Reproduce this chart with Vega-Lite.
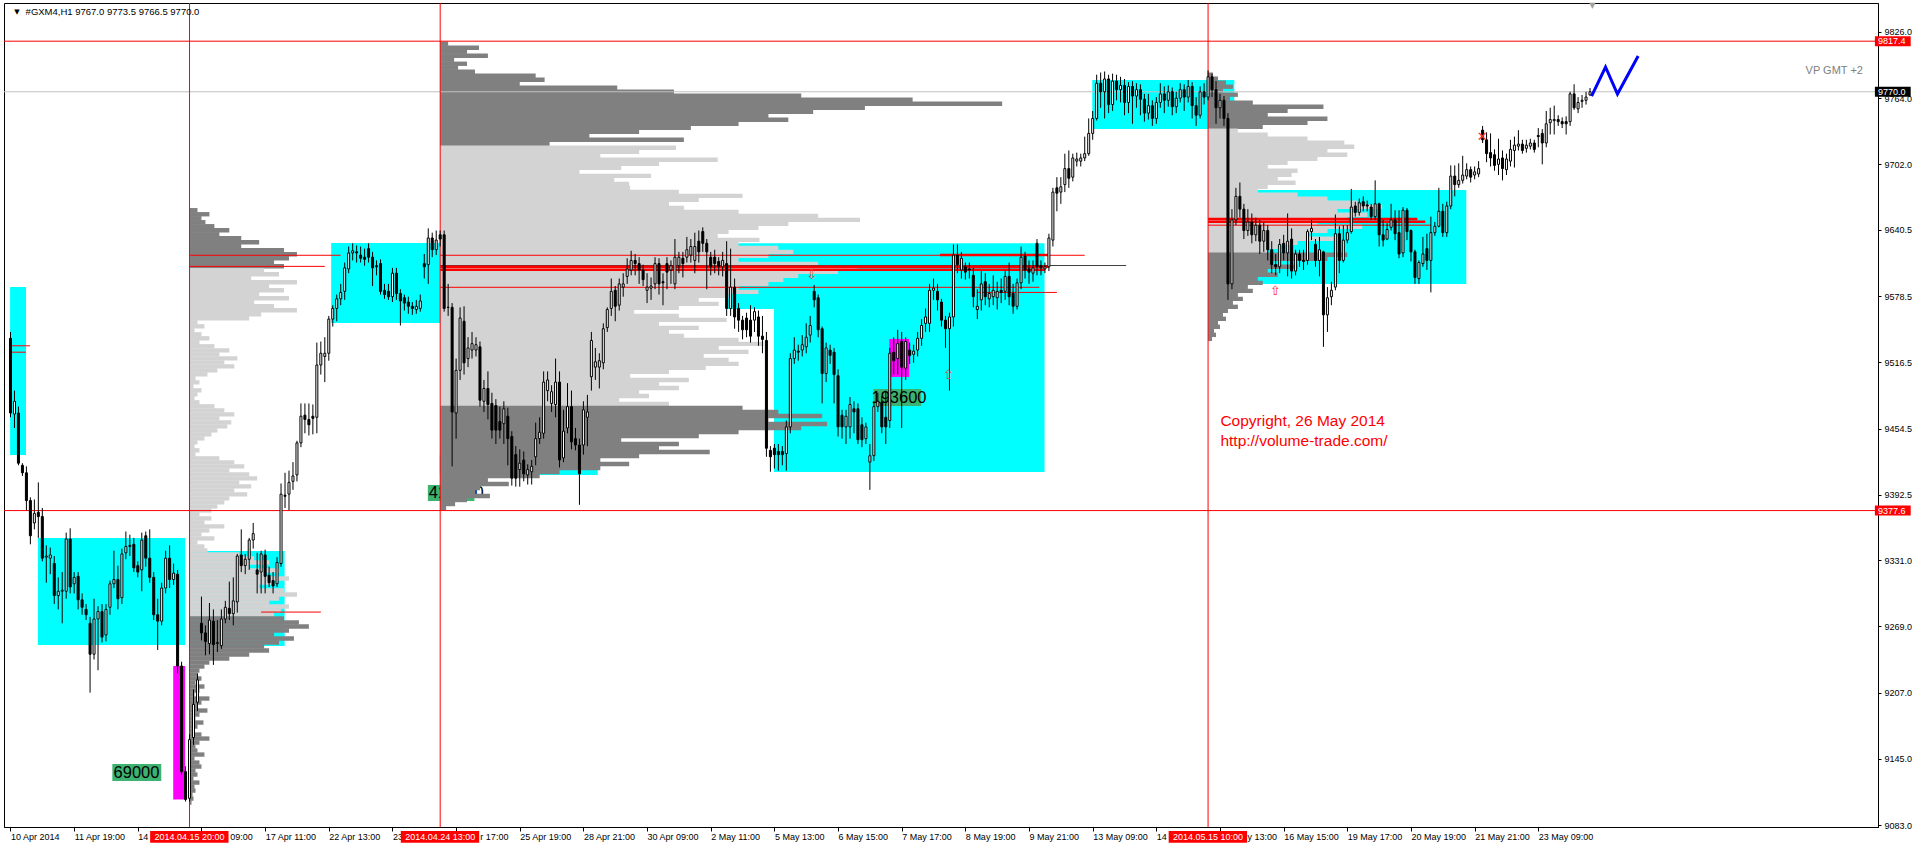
{
"$schema":"https://vega.github.io/schema/vega-lite/v6.json",
"width":1874,"height":824,
"autosize":{"type":"none"},
"padding":{"left":4,"top":3,"right":42,"bottom":22},
"background":"#ffffff",
"config":{"view":{"stroke":"#000000","strokeWidth":1},"axis":{"grid":false}},
"resolve":{"scale":{"color":"independent","fill":"independent","stroke":"independent"}},
"datasets":{
"boxes":[
{"i0":-0.1,"i1":3.9,"p0":9587.1,"p1":9429.7,"kind":"zone"},
{"i0":6.9,"i1":43.9,"p0":9351.9,"p1":9251.7,"kind":"zone"},
{"i0":44.9,"i1":68.9,"p0":9339.7,"p1":9250.7,"kind":"zone"},
{"i0":80.6,"i1":108.1,"p0":9628.3,"p1":9553.3,"kind":"zone"},
{"i0":107.9,"i1":147.6,"p0":9429.7,"p1":9411,"kind":"zone"},
{"i0":180,"i1":259.9,"p0":9628,"p1":9566.5,"kind":"zone"},
{"i0":191.9,"i1":259.9,"p0":9566.5,"p1":9413.7,"kind":"zone"},
{"i0":271.9,"i1":307.6,"p0":9781,"p1":9735.1,"kind":"zone"},
{"i0":306.1,"i1":365.9,"p0":9678,"p1":9589.9,"kind":"zone"},
{"i0":40.9,"i1":43.9,"p0":9232,"p1":9107,"kind":"spike"},
{"i0":220.9,"i1":225.9,"p0":9538.4,"p1":9502.8,"kind":"spike"}
],
"tags":[
{"i0":25.6,"i1":37.9,"p0":9140.2,"p1":9124.2,"t":"69000","tx":25.9,"pc":9132},
{"i0":216.9,"i1":228.9,"p0":9491.5,"p1":9475.6,"t":"193600","tx":216.4,"pc":9483.2},
{"i0":104.9,"i1":116.6,"p0":9401.6,"p1":9386.6,"t":"413600","tx":105.1,"pc":9394}
],
"profile":[
{"s":45,"p":9659,"v":2,"z":"o"},{"s":45,"p":9655.25,"v":5,"z":"o"},{"s":45,"p":9651.5,"v":3,"z":"o"},{"s":45,"p":9647.75,"v":4,"z":"o"},{"s":45,"p":9644,"v":6.25,"z":"o"},{"s":45,"p":9640.25,"v":10,"z":"o"},{"s":45,"p":9636.5,"v":7.5,"z":"o"},{"s":45,"p":9632.75,"v":13,"z":"o"},{"s":45,"p":9629,"v":17.5,"z":"o"},{"s":45,"p":9625.25,"v":13,"z":"o"},{"s":45,"p":9621.5,"v":23.75,"z":"o"},{"s":45,"p":9617.75,"v":27,"z":"o"},{"s":45,"p":9614,"v":25,"z":"o"},{"s":45,"p":9610.25,"v":21.25,"z":"o"},{"s":45,"p":9606.5,"v":23.75,"z":"o"},
{"s":45,"p":9602.75,"v":18.75,"z":"v"},{"s":45,"p":9599,"v":22.5,"z":"v"},{"s":45,"p":9595.25,"v":15.5,"z":"v"},{"s":45,"p":9591.5,"v":27,"z":"v"},{"s":45,"p":9587.75,"v":20,"z":"v"},{"s":45,"p":9584,"v":23.75,"z":"v"},{"s":45,"p":9580.25,"v":17.5,"z":"v"},{"s":45,"p":9576.5,"v":25,"z":"v"},{"s":45,"p":9572.75,"v":16.25,"z":"v"},{"s":45,"p":9569,"v":21.25,"z":"v"},{"s":45,"p":9565.25,"v":27,"z":"v"},{"s":45,"p":9561.5,"v":18,"z":"v"},{"s":45,"p":9557.75,"v":15,"z":"v"},{"s":45,"p":9554,"v":2,"z":"v"},{"s":45,"p":9550.25,"v":3.75,"z":"v"},{"s":45,"p":9546.5,"v":1.25,"z":"v"},{"s":45,"p":9542.75,"v":3,"z":"v"},{"s":45,"p":9539,"v":5,"z":"v"},{"s":45,"p":9535.25,"v":2.5,"z":"v"},{"s":45,"p":9531.5,"v":6.25,"z":"v"},{"s":45,"p":9527.75,"v":10,"z":"v"},{"s":45,"p":9524,"v":7.5,"z":"v"},{"s":45,"p":9520.25,"v":12,"z":"v"},{"s":45,"p":9516.5,"v":8.75,"z":"v"},{"s":45,"p":9512.75,"v":11.25,"z":"v"},{"s":45,"p":9509,"v":7,"z":"v"},{"s":45,"p":9505.25,"v":4.5,"z":"v"},{"s":45,"p":9501.5,"v":1.5,"z":"v"},{"s":45,"p":9497.75,"v":2.5,"z":"v"},{"s":45,"p":9494,"v":1,"z":"v"},{"s":45,"p":9490.25,"v":3,"z":"v"},{"s":45,"p":9486.5,"v":2,"z":"v"},{"s":45,"p":9482.75,"v":1.25,"z":"v"},{"s":45,"p":9479,"v":2.5,"z":"v"},{"s":45,"p":9475.25,"v":6.25,"z":"v"},{"s":45,"p":9471.5,"v":8.75,"z":"v"},{"s":45,"p":9467.75,"v":11.25,"z":"v"},{"s":45,"p":9464,"v":7.5,"z":"v"},{"s":45,"p":9460.25,"v":10.5,"z":"v"},{"s":45,"p":9456.5,"v":9.5,"z":"v"},{"s":45,"p":9452.75,"v":7,"z":"v"},{"s":45,"p":9449,"v":5.5,"z":"v"},{"s":45,"p":9445.25,"v":3.75,"z":"v"},{"s":45,"p":9441.5,"v":2,"z":"v"},{"s":45,"p":9437.75,"v":1.25,"z":"v"},{"s":45,"p":9434,"v":2.5,"z":"v"},{"s":45,"p":9430.25,"v":1.5,"z":"v"},{"s":45,"p":9426.5,"v":7.5,"z":"v"},{"s":45,"p":9422.75,"v":11.25,"z":"v"},{"s":45,"p":9419,"v":13.75,"z":"v"},{"s":45,"p":9415.25,"v":10,"z":"v"},{"s":45,"p":9411.5,"v":15,"z":"v"},{"s":45,"p":9407.75,"v":17,"z":"v"},{"s":45,"p":9404,"v":12.5,"z":"v"},{"s":45,"p":9400.25,"v":15.5,"z":"v"},{"s":45,"p":9396.5,"v":11.25,"z":"v"},{"s":45,"p":9392.75,"v":14.5,"z":"v"},{"s":45,"p":9389,"v":10,"z":"v"},{"s":45,"p":9385.25,"v":8.75,"z":"v"},{"s":45,"p":9381.5,"v":7,"z":"v"},{"s":45,"p":9377.75,"v":5.5,"z":"v"},{"s":45,"p":9374,"v":2.5,"z":"v"},{"s":45,"p":9370.25,"v":5.5,"z":"v"},{"s":45,"p":9366.5,"v":3.75,"z":"v"},{"s":45,"p":9362.75,"v":8.75,"z":"v"},{"s":45,"p":9359,"v":5,"z":"v"},{"s":45,"p":9355.25,"v":3,"z":"v"},{"s":45,"p":9351.5,"v":6.25,"z":"v"},{"s":45,"p":9347.75,"v":2,"z":"v"},{"s":45,"p":9344,"v":3.75,"z":"v"},{"s":45,"p":9340.25,"v":4.5,"z":"v"},{"s":45,"p":9336.5,"v":12.5,"z":"v"},{"s":45,"p":9332.75,"v":16.25,"z":"v"},{"s":45,"p":9329,"v":20,"z":"v"},{"s":45,"p":9325.25,"v":15,"z":"v"},{"s":45,"p":9321.5,"v":22.5,"z":"v"},{"s":45,"p":9317.75,"v":18.75,"z":"v"},{"s":45,"p":9314,"v":25,"z":"v"},{"s":45,"p":9310.25,"v":21.25,"z":"v"},{"s":45,"p":9306.5,"v":17.5,"z":"v"},{"s":45,"p":9302.75,"v":23.75,"z":"v"},{"s":45,"p":9299,"v":27,"z":"v"},{"s":45,"p":9295.25,"v":22.5,"z":"v"},{"s":45,"p":9291.5,"v":20,"z":"v"},{"s":45,"p":9287.75,"v":25,"z":"v"},{"s":45,"p":9284,"v":23,"z":"v"},{"s":45,"p":9280.25,"v":21.25,"z":"v"},
{"s":45,"p":9276.5,"v":23.75,"z":"o"},{"s":45,"p":9272.75,"v":27.5,"z":"o"},{"s":45,"p":9269,"v":30,"z":"o"},{"s":45,"p":9265.25,"v":25,"z":"o"},{"s":45,"p":9261.5,"v":21.25,"z":"o"},{"s":45,"p":9257.75,"v":26.25,"z":"o"},{"s":45,"p":9254,"v":22.5,"z":"o"},{"s":45,"p":9250.25,"v":18.75,"z":"o"},{"s":45,"p":9246.5,"v":20,"z":"o"},{"s":45,"p":9242.75,"v":15,"z":"o"},{"s":45,"p":9239,"v":10,"z":"o"},{"s":45,"p":9235.25,"v":5,"z":"o"},{"s":45,"p":9231.5,"v":3.75,"z":"o"},{"s":45,"p":9227.75,"v":2.5,"z":"o"},{"s":45,"p":9224,"v":2,"z":"o"},{"s":45,"p":9220.25,"v":3,"z":"o"},{"s":45,"p":9216.5,"v":1.5,"z":"o"},{"s":45,"p":9212.75,"v":3.75,"z":"o"},{"s":45,"p":9209,"v":2.5,"z":"o"},{"s":45,"p":9205.25,"v":1.25,"z":"o"},{"s":45,"p":9201.5,"v":5,"z":"o"},{"s":45,"p":9197.75,"v":3,"z":"o"},{"s":45,"p":9194,"v":2,"z":"o"},{"s":45,"p":9190.25,"v":4.5,"z":"o"},{"s":45,"p":9186.5,"v":2.5,"z":"o"},{"s":45,"p":9182.75,"v":1.5,"z":"o"},{"s":45,"p":9179,"v":3.5,"z":"o"},{"s":45,"p":9175.25,"v":2,"z":"o"},{"s":45,"p":9171.5,"v":1.25,"z":"o"},{"s":45,"p":9167.75,"v":3,"z":"o"},{"s":45,"p":9164,"v":5,"z":"o"},{"s":45,"p":9160.25,"v":2.5,"z":"o"},{"s":45,"p":9156.5,"v":1.5,"z":"o"},{"s":45,"p":9152.75,"v":2,"z":"o"},{"s":45,"p":9149,"v":3.75,"z":"o"},{"s":45,"p":9145.25,"v":1.25,"z":"o"},{"s":45,"p":9141.5,"v":2.5,"z":"o"},{"s":45,"p":9137.75,"v":3,"z":"o"},{"s":45,"p":9134,"v":1.5,"z":"o"},{"s":45,"p":9130.25,"v":2,"z":"o"},{"s":45,"p":9126.5,"v":1,"z":"o"},{"s":45,"p":9122.75,"v":2.5,"z":"o"},{"s":45,"p":9119,"v":1.25,"z":"o"},{"s":45,"p":9115.25,"v":1.5,"z":"o"},{"s":45,"p":9111.5,"v":0.75,"z":"o"},{"s":45,"p":9107.75,"v":1,"z":"o"},{"s":45,"p":9104,"v":0.5,"z":"o"},
{"s":108,"p":9815,"v":2,"z":"o"},{"s":108,"p":9811.25,"v":9.75,"z":"o"},{"s":108,"p":9807.5,"v":6.75,"z":"o"},{"s":108,"p":9803.75,"v":12,"z":"o"},{"s":108,"p":9800,"v":3.5,"z":"o"},{"s":108,"p":9796.25,"v":6.75,"z":"o"},{"s":108,"p":9792.5,"v":4.5,"z":"o"},{"s":108,"p":9788.75,"v":8.75,"z":"o"},{"s":108,"p":9785,"v":24,"z":"o"},{"s":108,"p":9781.25,"v":26.25,"z":"o"},{"s":108,"p":9777.5,"v":20,"z":"o"},{"s":108,"p":9773.75,"v":44.5,"z":"o"},{"s":108,"p":9770,"v":58.75,"z":"o"},{"s":108,"p":9766.25,"v":90.75,"z":"o"},{"s":108,"p":9762.5,"v":118.75,"z":"o"},{"s":108,"p":9758.75,"v":141.25,"z":"o"},{"s":108,"p":9755,"v":106.75,"z":"o"},{"s":108,"p":9751.25,"v":93.75,"z":"o"},{"s":108,"p":9747.5,"v":82.5,"z":"o"},{"s":108,"p":9743.75,"v":87.5,"z":"o"},{"s":108,"p":9740,"v":75,"z":"o"},{"s":108,"p":9736.25,"v":63,"z":"o"},{"s":108,"p":9732.5,"v":50,"z":"o"},{"s":108,"p":9728.75,"v":37.5,"z":"o"},{"s":108,"p":9725,"v":61.25,"z":"o"},{"s":108,"p":9721.25,"v":27.5,"z":"o"},
{"s":108,"p":9717.5,"v":59.25,"z":"v"},{"s":108,"p":9713.75,"v":50,"z":"v"},{"s":108,"p":9710,"v":40.25,"z":"v"},{"s":108,"p":9706.25,"v":69.75,"z":"v"},{"s":108,"p":9702.5,"v":55,"z":"v"},{"s":108,"p":9698.75,"v":45.5,"z":"v"},{"s":108,"p":9695,"v":35,"z":"v"},{"s":108,"p":9691.25,"v":53,"z":"v"},{"s":108,"p":9687.5,"v":43.75,"z":"v"},{"s":108,"p":9683.75,"v":47.5,"z":"v"},{"s":108,"p":9680,"v":47.75,"z":"v"},{"s":108,"p":9676.25,"v":60,"z":"v"},{"s":108,"p":9672.5,"v":76,"z":"v"},{"s":108,"p":9668.75,"v":65,"z":"v"},{"s":108,"p":9665,"v":57.5,"z":"v"},{"s":108,"p":9661.25,"v":61.25,"z":"v"},{"s":108,"p":9657.5,"v":75,"z":"v"},{"s":108,"p":9653.75,"v":95,"z":"v"},{"s":108,"p":9650,"v":105.5,"z":"v"},{"s":108,"p":9646.25,"v":87.5,"z":"v"},{"s":108,"p":9642.5,"v":80,"z":"v"},{"s":108,"p":9638.75,"v":72.5,"z":"v"},{"s":108,"p":9635,"v":69.75,"z":"v"},{"s":108,"p":9631.25,"v":80.25,"z":"v"},{"s":108,"p":9627.5,"v":75,"z":"v"},{"s":108,"p":9623.75,"v":85,"z":"v"},{"s":108,"p":9620,"v":88.75,"z":"v"},{"s":108,"p":9616.25,"v":82.5,"z":"v"},{"s":108,"p":9612.5,"v":75,"z":"v"},{"s":108,"p":9608.75,"v":95,"z":"v"},{"s":108,"p":9605,"v":105,"z":"v"},{"s":108,"p":9601.25,"v":100,"z":"v"},{"s":108,"p":9597.5,"v":90,"z":"v"},{"s":108,"p":9593.75,"v":86.25,"z":"v"},{"s":108,"p":9590,"v":82.5,"z":"v"},{"s":108,"p":9586.25,"v":75,"z":"v"},{"s":108,"p":9582.5,"v":80,"z":"v"},{"s":108,"p":9578.75,"v":72.5,"z":"v"},{"s":108,"p":9575,"v":65,"z":"v"},{"s":108,"p":9571.25,"v":70,"z":"v"},{"s":108,"p":9567.5,"v":60,"z":"v"},{"s":108,"p":9563.75,"v":48.75,"z":"v"},{"s":108,"p":9560,"v":60,"z":"v"},{"s":108,"p":9556.25,"v":72,"z":"v"},{"s":108,"p":9552.5,"v":55,"z":"v"},{"s":108,"p":9548.75,"v":65,"z":"v"},{"s":108,"p":9545,"v":57.5,"z":"v"},{"s":108,"p":9541.25,"v":61.25,"z":"v"},{"s":108,"p":9537.5,"v":75,"z":"v"},{"s":108,"p":9533.75,"v":81.25,"z":"v"},{"s":108,"p":9530,"v":70,"z":"v"},{"s":108,"p":9526.25,"v":77.5,"z":"v"},{"s":108,"p":9522.5,"v":66.25,"z":"v"},{"s":108,"p":9518.75,"v":72.5,"z":"v"},{"s":108,"p":9515,"v":75,"z":"v"},{"s":108,"p":9511.25,"v":66.75,"z":"v"},{"s":108,"p":9507.5,"v":57.5,"z":"v"},{"s":108,"p":9503.75,"v":47.75,"z":"v"},{"s":108,"p":9500,"v":62.5,"z":"v"},{"s":108,"p":9496.25,"v":55,"z":"v"},{"s":108,"p":9492.5,"v":60,"z":"v"},{"s":108,"p":9488.75,"v":50,"z":"v"},{"s":108,"p":9485,"v":52.5,"z":"v"},{"s":108,"p":9481.25,"v":45,"z":"v"},{"s":108,"p":9477.5,"v":57.5,"z":"v"},
{"s":108,"p":9473.75,"v":76,"z":"o"},{"s":108,"p":9470,"v":85,"z":"o"},{"s":108,"p":9466.25,"v":96,"z":"o"},{"s":108,"p":9462.5,"v":82.5,"z":"o"},{"s":108,"p":9458.75,"v":97.25,"z":"o"},{"s":108,"p":9455,"v":90.75,"z":"o"},{"s":108,"p":9451.25,"v":75,"z":"o"},{"s":108,"p":9447.5,"v":65,"z":"o"},{"s":108,"p":9443.75,"v":45.5,"z":"o"},{"s":108,"p":9440,"v":60,"z":"o"},{"s":108,"p":9436.25,"v":55,"z":"o"},{"s":108,"p":9432.5,"v":67.75,"z":"o"},{"s":108,"p":9428.75,"v":50,"z":"o"},{"s":108,"p":9425,"v":40.25,"z":"o"},{"s":108,"p":9421.25,"v":47.5,"z":"o"},{"s":108,"p":9417.5,"v":40.25,"z":"o"},{"s":108,"p":9413.75,"v":30,"z":"o"},{"s":108,"p":9410,"v":25,"z":"o"},{"s":108,"p":9406.25,"v":12,"z":"o"},{"s":108,"p":9402.5,"v":17.25,"z":"o"},{"s":108,"p":9398.75,"v":10,"z":"o"},{"s":108,"p":9395,"v":8.75,"z":"o"},{"s":108,"p":9391.25,"v":12.5,"z":"o"},{"s":108,"p":9387.5,"v":6.75,"z":"o"},{"s":108,"p":9383.75,"v":3.75,"z":"o"},{"s":108,"p":9380,"v":1.5,"z":"o"},
{"s":301,"p":9786,"v":1.25,"z":"o"},{"s":301,"p":9782.25,"v":2.5,"z":"o"},{"s":301,"p":9778.5,"v":4.5,"z":"o"},{"s":301,"p":9774.75,"v":6.25,"z":"o"},{"s":301,"p":9771,"v":3.75,"z":"o"},{"s":301,"p":9767.25,"v":7.5,"z":"o"},{"s":301,"p":9763.5,"v":5.5,"z":"o"},{"s":301,"p":9759.75,"v":11.25,"z":"o"},{"s":301,"p":9756,"v":29,"z":"o"},{"s":301,"p":9752.25,"v":20,"z":"o"},{"s":301,"p":9748.5,"v":15,"z":"o"},{"s":301,"p":9744.75,"v":30,"z":"o"},{"s":301,"p":9741,"v":25,"z":"o"},{"s":301,"p":9737.25,"v":13.75,"z":"o"},
{"s":301,"p":9733.5,"v":7.5,"z":"v"},{"s":301,"p":9729.75,"v":15,"z":"v"},{"s":301,"p":9726,"v":25,"z":"v"},{"s":301,"p":9722.25,"v":34.25,"z":"v"},{"s":301,"p":9718.5,"v":36.75,"z":"v"},{"s":301,"p":9714.75,"v":30,"z":"v"},{"s":301,"p":9711,"v":35,"z":"v"},{"s":301,"p":9707.25,"v":27.5,"z":"v"},{"s":301,"p":9703.5,"v":20,"z":"v"},{"s":301,"p":9699.75,"v":15,"z":"v"},{"s":301,"p":9696,"v":22.5,"z":"v"},{"s":301,"p":9692.25,"v":21,"z":"v"},{"s":301,"p":9688.5,"v":17.5,"z":"v"},{"s":301,"p":9684.75,"v":22,"z":"v"},{"s":301,"p":9681,"v":15,"z":"v"},{"s":301,"p":9677.25,"v":12.5,"z":"v"},{"s":301,"p":9673.5,"v":22.5,"z":"v"},{"s":301,"p":9669.75,"v":30,"z":"v"},{"s":301,"p":9666,"v":37.5,"z":"v"},{"s":301,"p":9662.25,"v":43.75,"z":"v"},{"s":301,"p":9658.5,"v":32.5,"z":"v"},{"s":301,"p":9654.75,"v":40,"z":"v"},{"s":301,"p":9651,"v":35,"z":"v"},{"s":301,"p":9647.25,"v":27.5,"z":"v"},{"s":301,"p":9643.5,"v":38.75,"z":"v"},{"s":301,"p":9639.75,"v":30,"z":"v"},{"s":301,"p":9636,"v":25,"z":"v"},{"s":301,"p":9632.25,"v":32.5,"z":"v"},{"s":301,"p":9628.5,"v":22.5,"z":"v"},{"s":301,"p":9624.75,"v":17.5,"z":"v"},{"s":301,"p":9621,"v":15,"z":"v"},
{"s":301,"p":9617.25,"v":35,"z":"o"},{"s":301,"p":9613.5,"v":30,"z":"o"},{"s":301,"p":9609.75,"v":16.25,"z":"o"},{"s":301,"p":9606,"v":22.5,"z":"o"},{"s":301,"p":9602.25,"v":15,"z":"o"},{"s":301,"p":9598.5,"v":17.5,"z":"o"},{"s":301,"p":9594.75,"v":12.5,"z":"o"},{"s":301,"p":9591,"v":13.75,"z":"o"},{"s":301,"p":9587.25,"v":10,"z":"o"},{"s":301,"p":9583.5,"v":11.25,"z":"o"},{"s":301,"p":9579.75,"v":7.5,"z":"o"},{"s":301,"p":9576,"v":8.75,"z":"o"},{"s":301,"p":9572.25,"v":6.25,"z":"o"},{"s":301,"p":9568.5,"v":7.5,"z":"o"},{"s":301,"p":9564.75,"v":5,"z":"o"},{"s":301,"p":9561,"v":3.75,"z":"o"},{"s":301,"p":9557.25,"v":4.5,"z":"o"},{"s":301,"p":9553.5,"v":2.5,"z":"o"},{"s":301,"p":9549.75,"v":3,"z":"o"},{"s":301,"p":9546,"v":1.5,"z":"o"},{"s":301,"p":9542.25,"v":2,"z":"o"},{"s":301,"p":9538.5,"v":1,"z":"o"}
],
"levels":[{"p":9817.4,"k":"alert"},{"p":9770,"k":"last"},{"p":9377.6,"k":"alert"}],
"segs":[
{"p":9616.8,"a":45,"b":83,"k":"thin"},{"p":9606.4,"a":45,"b":79,"k":"thin"},{"p":9616.8,"a":108,"b":270,"k":"thin"},{"p":9586.8,"a":108,"b":258.6,"k":"thin"},{"p":9582,"a":243,"b":263,"k":"thin"},{"p":9282.5,"a":63,"b":78,"k":"thin"},{"p":9645,"a":301,"b":357,"k":"thin"},{"p":9532,"a":-0.1,"b":4.9,"k":"thin"},{"p":9526,"a":-0.1,"b":3.9,"k":"thin"},
{"p":9607.2,"a":108,"b":280.4,"k":"dark"},
{"p":9606,"a":108,"b":261,"k":"thick"},{"p":9603.2,"a":108,"b":260,"k":"thick"},{"p":9617,"a":233.6,"b":261,"k":"thick"},{"p":9650.8,"a":301,"b":353.6,"k":"thick"},{"p":9648.3,"a":301,"b":355.6,"k":"thick"}
],
"vlines":[{"i":45},{"i":108},{"i":301}],
"signs":[{"i":201.4,"p":9598,"t":"⇩"},{"i":235.75,"p":9505,"t":"⇧"},{"i":317.9,"p":9583,"t":"⇧"},{"i":369.9,"p":9728,"t":"✕"}],
"path":[{"n":0,"i":397.4,"p":9766},{"n":1,"i":400.9,"p":9793.2},{"n":2,"i":403.9,"p":9767.9},{"n":3,"i":409.1,"p":9803.5}],
"notes":[
{"k":"copy","i":304.1,"p":9461.5,"t":"Copyright, 26 May 2014"},
{"k":"copy","i":304.1,"p":9442.8,"t":"http://volume-trade.com/"},
{"k":"vp","i":465.6,"p":9789.5,"t":"VP GMT +2"},
{"k":"head","i":3.8,"p":9844.7,"t":"#GXM4,H1  9767.0 9773.5 9766.5 9770.0"},
{"k":"tri","i":1.6,"p":9844.7,"t":"▼"},
{"k":"shift","i":397.6,"p":9850.5,"t":"▼"},
{"k":"tail","i":55.25,"p":9072.2,"t":"09:00"},
{"k":"tail","i":118.1,"p":9072.2,"t":"r 17:00"},
{"k":"tail","i":310.9,"p":9072.2,"t":"y 13:00"}
],
"axisTags":[{"p":9817.4,"t":"9817.4","k":"alert"},{"p":9770,"t":"9770.0","k":"last"},{"p":9377.6,"t":"9377.6","k":"alert"}],
"timeTags":[{"i":45,"t":"2014.04.15 20:00"},{"i":108,"t":"2014.04.24 13:00"},{"i":301,"t":"2014.05.15 10:00"}],
"candles":[
{"i":0,"o":9539,"h":9545,"l":9465,"c":9469},{"i":1,"o":9468,"h":9490,"l":9455,"c":9480},{"i":2,"o":9469,"h":9475,"l":9420,"c":9422},{"i":3,"o":9420,"h":9422,"l":9410,"c":9413},{"i":4,"o":9413,"h":9419,"l":9378,"c":9387},{"i":5,"o":9387,"h":9390,"l":9346,"c":9354},{"i":6,"o":9366,"h":9388,"l":9360,"c":9375},{"i":7,"o":9376,"h":9404,"l":9352,"c":9372},{"i":8,"o":9372,"h":9380,"l":9330,"c":9333},{"i":9,"o":9334,"h":9345,"l":9310,"c":9335},
{"i":10,"o":9333,"h":9343,"l":9318,"c":9336},{"i":11,"o":9328,"h":9335,"l":9290,"c":9298},{"i":12,"o":9298,"h":9315,"l":9285,"c":9302},{"i":13,"o":9302,"h":9320,"l":9272,"c":9303},{"i":14,"o":9302,"h":9357,"l":9295,"c":9351},{"i":15,"o":9351,"h":9361,"l":9300,"c":9306},{"i":16,"o":9309,"h":9320,"l":9300,"c":9315},{"i":17,"o":9316,"h":9320,"l":9285,"c":9294},{"i":18,"o":9294,"h":9300,"l":9280,"c":9287},{"i":19,"o":9285,"h":9290,"l":9275,"c":9280},
{"i":20,"o":9272,"h":9278,"l":9207,"c":9243},{"i":21,"o":9243,"h":9295,"l":9238,"c":9276},{"i":22,"o":9276,"h":9288,"l":9228,"c":9283},{"i":23,"o":9283,"h":9290,"l":9254,"c":9259},{"i":24,"o":9261,"h":9290,"l":9255,"c":9285},{"i":25,"o":9287,"h":9312,"l":9280,"c":9309},{"i":26,"o":9309,"h":9340,"l":9305,"c":9313},{"i":27,"o":9313,"h":9326,"l":9285,"c":9295},{"i":28,"o":9296,"h":9342,"l":9290,"c":9337},{"i":29,"o":9338,"h":9358,"l":9332,"c":9344},
{"i":30,"o":9344,"h":9355,"l":9335,"c":9345},{"i":31,"o":9346,"h":9352,"l":9320,"c":9324},{"i":32,"o":9326,"h":9330,"l":9315,"c":9320},{"i":33,"o":9322,"h":9357,"l":9302,"c":9350},{"i":34,"o":9354,"h":9358,"l":9325,"c":9333},{"i":35,"o":9333,"h":9360,"l":9310,"c":9315},{"i":36,"o":9315,"h":9320,"l":9275,"c":9280},{"i":37,"o":9280,"h":9295,"l":9247,"c":9274},{"i":38,"o":9274,"h":9310,"l":9270,"c":9305},{"i":39,"o":9305,"h":9340,"l":9300,"c":9333},
{"i":40,"o":9333,"h":9345,"l":9305,"c":9313},{"i":41,"o":9313,"h":9328,"l":9308,"c":9319},{"i":42,"o":9318,"h":9322,"l":9225,"c":9232},{"i":43,"o":9232,"h":9236,"l":9130,"c":9133},{"i":44,"o":9133,"h":9138,"l":9105,"c":9107},{"i":45,"o":9108,"h":9168,"l":9105,"c":9163},{"i":46,"o":9165,"h":9210,"l":9158,"c":9196},{"i":47,"o":9198,"h":9225,"l":9190,"c":9219},{"i":48,"o":9272,"h":9297,"l":9256,"c":9263},{"i":49,"o":9263,"h":9270,"l":9242,"c":9255},
{"i":50,"o":9253,"h":9291,"l":9243,"c":9275},{"i":51,"o":9274,"h":9285,"l":9233,"c":9252},{"i":52,"o":9253,"h":9275,"l":9245,"c":9254},{"i":53,"o":9251,"h":9285,"l":9248,"c":9276},{"i":54,"o":9276,"h":9293,"l":9272,"c":9287},{"i":55,"o":9286,"h":9311,"l":9275,"c":9281},{"i":56,"o":9281,"h":9315,"l":9270,"c":9293},{"i":57,"o":9292,"h":9337,"l":9282,"c":9335},{"i":58,"o":9336,"h":9360,"l":9320,"c":9326},{"i":59,"o":9326,"h":9337,"l":9318,"c":9332},
{"i":60,"o":9332,"h":9352,"l":9322,"c":9350},{"i":61,"o":9350,"h":9366,"l":9342,"c":9356},{"i":62,"o":9322,"h":9338,"l":9300,"c":9318},{"i":63,"o":9320,"h":9340,"l":9300,"c":9337},{"i":64,"o":9336,"h":9341,"l":9300,"c":9316},{"i":65,"o":9317,"h":9325,"l":9306,"c":9310},{"i":66,"o":9312,"h":9320,"l":9300,"c":9307},{"i":67,"o":9309,"h":9334,"l":9306,"c":9329},{"i":68,"o":9328,"h":9403,"l":9325,"c":9393},{"i":69,"o":9392,"h":9413,"l":9380,"c":9391},
{"i":70,"o":9393,"h":9415,"l":9378,"c":9404},{"i":71,"o":9405,"h":9423,"l":9397,"c":9410},{"i":72,"o":9411,"h":9443,"l":9405,"c":9441},{"i":73,"o":9441,"h":9478,"l":9437,"c":9466},{"i":74,"o":9467,"h":9478,"l":9450,"c":9463},{"i":75,"o":9463,"h":9478,"l":9448,"c":9458},{"i":76,"o":9466,"h":9477,"l":9449,"c":9464},{"i":77,"o":9465,"h":9535,"l":9450,"c":9514},{"i":78,"o":9514,"h":9536,"l":9505,"c":9525},{"i":79,"o":9522,"h":9540,"l":9498,"c":9525},
{"i":80,"o":9525,"h":9560,"l":9518,"c":9557},{"i":81,"o":9557,"h":9570,"l":9550,"c":9567},{"i":82,"o":9567,"h":9580,"l":9555,"c":9576},{"i":83,"o":9576,"h":9590,"l":9570,"c":9582},{"i":84,"o":9583,"h":9610,"l":9575,"c":9605},{"i":85,"o":9604,"h":9625,"l":9600,"c":9619},{"i":86,"o":9619,"h":9628,"l":9612,"c":9621},{"i":87,"o":9620,"h":9626,"l":9610,"c":9619},{"i":88,"o":9617,"h":9625,"l":9610,"c":9614},{"i":89,"o":9615,"h":9623,"l":9607,"c":9613},
{"i":90,"o":9623,"h":9628,"l":9610,"c":9615},{"i":91,"o":9615,"h":9620,"l":9588,"c":9605},{"i":92,"o":9607,"h":9612,"l":9598,"c":9606},{"i":93,"o":9609,"h":9613,"l":9580,"c":9583},{"i":94,"o":9584,"h":9590,"l":9576,"c":9580},{"i":95,"o":9583,"h":9590,"l":9575,"c":9578},{"i":96,"o":9578,"h":9605,"l":9573,"c":9600},{"i":97,"o":9600,"h":9605,"l":9575,"c":9581},{"i":98,"o":9581,"h":9585,"l":9551,"c":9574},{"i":99,"o":9577,"h":9580,"l":9565,"c":9572},
{"i":100,"o":9573,"h":9578,"l":9562,"c":9569},{"i":101,"o":9569,"h":9573,"l":9561,"c":9567},{"i":102,"o":9566,"h":9575,"l":9562,"c":9569},{"i":103,"o":9567,"h":9580,"l":9564,"c":9574},{"i":104,"o":9609,"h":9618,"l":9595,"c":9606},{"i":105,"o":9608,"h":9642,"l":9590,"c":9633},{"i":106,"o":9633,"h":9638,"l":9615,"c":9622},{"i":107,"o":9622,"h":9640,"l":9617,"c":9631},{"i":108,"o":9636,"h":9640,"l":9625,"c":9632},{"i":109,"o":9636,"h":9640,"l":9564,"c":9567},
{"i":110,"o":9568,"h":9590,"l":9560,"c":9568},{"i":111,"o":9568,"h":9572,"l":9419,"c":9470},{"i":112,"o":9469,"h":9520,"l":9445,"c":9509},{"i":113,"o":9509,"h":9568,"l":9500,"c":9558},{"i":114,"o":9555,"h":9569,"l":9505,"c":9516},{"i":115,"o":9520,"h":9540,"l":9512,"c":9530},{"i":116,"o":9528,"h":9545,"l":9520,"c":9534},{"i":117,"o":9528,"h":9540,"l":9522,"c":9533},{"i":118,"o":9531,"h":9536,"l":9475,"c":9481},{"i":119,"o":9480,"h":9500,"l":9470,"c":9492},
{"i":120,"o":9492,"h":9508,"l":9463,"c":9477},{"i":121,"o":9478,"h":9488,"l":9445,"c":9453},{"i":122,"o":9476,"h":9482,"l":9440,"c":9453},{"i":123,"o":9461,"h":9475,"l":9445,"c":9453},{"i":124,"o":9459,"h":9480,"l":9440,"c":9473},{"i":125,"o":9466,"h":9474,"l":9420,"c":9445},{"i":126,"o":9447,"h":9452,"l":9401,"c":9408},{"i":127,"o":9430,"h":9438,"l":9400,"c":9408},{"i":128,"o":9416,"h":9435,"l":9400,"c":9422},{"i":129,"o":9425,"h":9433,"l":9405,"c":9412},
{"i":130,"o":9411,"h":9421,"l":9402,"c":9416},{"i":131,"o":9414,"h":9425,"l":9402,"c":9419},{"i":132,"o":9428,"h":9460,"l":9420,"c":9445},{"i":133,"o":9445,"h":9465,"l":9440,"c":9451},{"i":134,"o":9450,"h":9508,"l":9445,"c":9498},{"i":135,"o":9490,"h":9508,"l":9480,"c":9500},{"i":136,"o":9478,"h":9495,"l":9470,"c":9489},{"i":137,"o":9477,"h":9520,"l":9465,"c":9498},{"i":138,"o":9498,"h":9508,"l":9418,"c":9425},{"i":139,"o":9427,"h":9472,"l":9423,"c":9452},
{"i":140,"o":9455,"h":9497,"l":9450,"c":9475},{"i":141,"o":9475,"h":9490,"l":9435,"c":9442},{"i":142,"o":9445,"h":9455,"l":9434,"c":9439},{"i":143,"o":9439,"h":9445,"l":9383,"c":9412},{"i":144,"o":9439,"h":9480,"l":9430,"c":9472},{"i":145,"o":9465,"h":9486,"l":9438,"c":9470},{"i":146,"o":9503,"h":9545,"l":9490,"c":9537},{"i":147,"o":9512,"h":9530,"l":9500,"c":9517},{"i":148,"o":9512,"h":9525,"l":9492,"c":9518},{"i":149,"o":9516,"h":9553,"l":9510,"c":9548},
{"i":150,"o":9549,"h":9568,"l":9545,"c":9566},{"i":151,"o":9567,"h":9595,"l":9560,"c":9583},{"i":152,"o":9584,"h":9588,"l":9555,"c":9569},{"i":153,"o":9570,"h":9595,"l":9565,"c":9590},{"i":154,"o":9587,"h":9600,"l":9578,"c":9590},{"i":155,"o":9597,"h":9614,"l":9590,"c":9604},{"i":156,"o":9603,"h":9621,"l":9598,"c":9612},{"i":157,"o":9612,"h":9618,"l":9598,"c":9609},{"i":158,"o":9609,"h":9615,"l":9590,"c":9603},{"i":159,"o":9603,"h":9608,"l":9588,"c":9594},
{"i":160,"o":9584,"h":9600,"l":9572,"c":9587},{"i":161,"o":9586,"h":9596,"l":9575,"c":9588},{"i":162,"o":9590,"h":9615,"l":9585,"c":9609},{"i":163,"o":9609,"h":9614,"l":9580,"c":9590},{"i":164,"o":9592,"h":9600,"l":9570,"c":9591},{"i":165,"o":9609,"h":9615,"l":9585,"c":9601},{"i":166,"o":9603,"h":9612,"l":9590,"c":9607},{"i":167,"o":9590,"h":9632,"l":9585,"c":9615},{"i":168,"o":9607,"h":9620,"l":9600,"c":9615},{"i":169,"o":9614,"h":9620,"l":9596,"c":9609},
{"i":170,"o":9615,"h":9634,"l":9610,"c":9622},{"i":171,"o":9617,"h":9632,"l":9610,"c":9625},{"i":172,"o":9612,"h":9638,"l":9600,"c":9625},{"i":173,"o":9630,"h":9640,"l":9610,"c":9620},{"i":174,"o":9639,"h":9643,"l":9620,"c":9628},{"i":175,"o":9628,"h":9632,"l":9585,"c":9620},{"i":176,"o":9615,"h":9620,"l":9598,"c":9606},{"i":177,"o":9615,"h":9622,"l":9600,"c":9609},{"i":178,"o":9611,"h":9615,"l":9598,"c":9606},{"i":179,"o":9606,"h":9620,"l":9597,"c":9612},
{"i":180,"o":9609,"h":9630,"l":9560,"c":9567},{"i":181,"o":9567,"h":9623,"l":9560,"c":9587},{"i":182,"o":9587,"h":9595,"l":9548,"c":9559},{"i":183,"o":9567,"h":9572,"l":9545,"c":9556},{"i":184,"o":9556,"h":9560,"l":9538,"c":9547},{"i":185,"o":9558,"h":9563,"l":9540,"c":9547},{"i":186,"o":9556,"h":9570,"l":9535,"c":9541},{"i":187,"o":9556,"h":9568,"l":9545,"c":9564},{"i":188,"o":9559,"h":9565,"l":9532,"c":9541},{"i":189,"o":9541,"h":9560,"l":9525,"c":9538},
{"i":190,"o":9537,"h":9545,"l":9428,"c":9436},{"i":191,"o":9434,"h":9438,"l":9414,"c":9428},{"i":192,"o":9436,"h":9440,"l":9417,"c":9430},{"i":193,"o":9433,"h":9440,"l":9415,"c":9430},{"i":194,"o":9433,"h":9438,"l":9420,"c":9430},{"i":195,"o":9431,"h":9462,"l":9415,"c":9456},{"i":196,"o":9456,"h":9525,"l":9450,"c":9520},{"i":197,"o":9520,"h":9540,"l":9515,"c":9528},{"i":198,"o":9527,"h":9533,"l":9518,"c":9526},{"i":199,"o":9528,"h":9542,"l":9522,"c":9533},
{"i":200,"o":9531,"h":9553,"l":9525,"c":9540},{"i":201,"o":9542,"h":9560,"l":9535,"c":9551},{"i":202,"o":9583,"h":9589,"l":9568,"c":9575},{"i":203,"o":9577,"h":9580,"l":9540,"c":9547},{"i":204,"o":9548,"h":9550,"l":9478,"c":9506},{"i":205,"o":9506,"h":9535,"l":9498,"c":9530},{"i":206,"o":9528,"h":9533,"l":9515,"c":9523},{"i":207,"o":9526,"h":9530,"l":9478,"c":9505},{"i":208,"o":9504,"h":9510,"l":9447,"c":9456},{"i":209,"o":9467,"h":9472,"l":9445,"c":9456},
{"i":210,"o":9456,"h":9472,"l":9440,"c":9466},{"i":211,"o":9456,"h":9484,"l":9445,"c":9477},{"i":212,"o":9473,"h":9480,"l":9450,"c":9470},{"i":213,"o":9473,"h":9478,"l":9440,"c":9444},{"i":214,"o":9458,"h":9465,"l":9437,"c":9444},{"i":215,"o":9445,"h":9460,"l":9440,"c":9456},{"i":216,"o":9423,"h":9440,"l":9397,"c":9429},{"i":217,"o":9429,"h":9480,"l":9424,"c":9475},{"i":218,"o":9475,"h":9488,"l":9470,"c":9480},{"i":219,"o":9479,"h":9485,"l":9450,"c":9456},
{"i":220,"o":9465,"h":9490,"l":9440,"c":9456},{"i":221,"o":9462,"h":9530,"l":9455,"c":9525},{"i":222,"o":9526,"h":9540,"l":9505,"c":9518},{"i":223,"o":9520,"h":9547,"l":9505,"c":9534},{"i":224,"o":9536,"h":9545,"l":9455,"c":9512},{"i":225,"o":9511,"h":9540,"l":9500,"c":9536},{"i":226,"o":9528,"h":9535,"l":9515,"c":9523},{"i":227,"o":9524,"h":9533,"l":9516,"c":9527},{"i":228,"o":9528,"h":9545,"l":9522,"c":9539},{"i":229,"o":9539,"h":9557,"l":9532,"c":9551},
{"i":230,"o":9553,"h":9567,"l":9545,"c":9559},{"i":231,"o":9553,"h":9590,"l":9545,"c":9584},{"i":232,"o":9584,"h":9595,"l":9575,"c":9586},{"i":233,"o":9583,"h":9590,"l":9565,"c":9575},{"i":234,"o":9573,"h":9576,"l":9550,"c":9556},{"i":235,"o":9556,"h":9560,"l":9530,"c":9548},{"i":236,"o":9548,"h":9563,"l":9490,"c":9559},{"i":237,"o":9559,"h":9627,"l":9550,"c":9617},{"i":238,"o":9617,"h":9627,"l":9600,"c":9608},{"i":239,"o":9603,"h":9620,"l":9595,"c":9614},
{"i":240,"o":9606,"h":9610,"l":9594,"c":9601},{"i":241,"o":9604,"h":9610,"l":9595,"c":9603},{"i":242,"o":9598,"h":9605,"l":9568,"c":9578},{"i":243,"o":9566,"h":9585,"l":9557,"c":9569},{"i":244,"o":9575,"h":9602,"l":9565,"c":9590},{"i":245,"o":9592,"h":9600,"l":9570,"c":9578},{"i":246,"o":9576,"h":9590,"l":9568,"c":9581},{"i":247,"o":9578,"h":9598,"l":9570,"c":9584},{"i":248,"o":9577,"h":9592,"l":9566,"c":9583},{"i":249,"o":9584,"h":9595,"l":9572,"c":9582},
{"i":250,"o":9583,"h":9603,"l":9575,"c":9597},{"i":251,"o":9597,"h":9610,"l":9570,"c":9578},{"i":252,"o":9581,"h":9590,"l":9562,"c":9569},{"i":253,"o":9569,"h":9595,"l":9566,"c":9591},{"i":254,"o":9591,"h":9625,"l":9585,"c":9615},{"i":255,"o":9616,"h":9620,"l":9595,"c":9603},{"i":256,"o":9604,"h":9612,"l":9590,"c":9601},{"i":257,"o":9600,"h":9612,"l":9592,"c":9605},{"i":258,"o":9628,"h":9632,"l":9598,"c":9606},{"i":259,"o":9607,"h":9612,"l":9598,"c":9605},
{"i":260,"o":9604,"h":9610,"l":9600,"c":9606},{"i":261,"o":9606,"h":9637,"l":9602,"c":9633},{"i":262,"o":9631,"h":9680,"l":9625,"c":9676},{"i":263,"o":9680,"h":9690,"l":9658,"c":9675},{"i":264,"o":9676,"h":9690,"l":9665,"c":9681},{"i":265,"o":9683,"h":9712,"l":9676,"c":9698},{"i":266,"o":9698,"h":9715,"l":9680,"c":9689},{"i":267,"o":9690,"h":9712,"l":9686,"c":9708},{"i":268,"o":9705,"h":9713,"l":9700,"c":9707},{"i":269,"o":9705,"h":9712,"l":9700,"c":9708},
{"i":270,"o":9708,"h":9728,"l":9705,"c":9712},{"i":271,"o":9712,"h":9745,"l":9710,"c":9731},{"i":272,"o":9731,"h":9752,"l":9725,"c":9745},{"i":273,"o":9745,"h":9786,"l":9743,"c":9778},{"i":274,"o":9778,"h":9788,"l":9755,"c":9770},{"i":275,"o":9770,"h":9789,"l":9745,"c":9782},{"i":276,"o":9782,"h":9786,"l":9750,"c":9758},{"i":277,"o":9758,"h":9787,"l":9752,"c":9780},{"i":278,"o":9780,"h":9786,"l":9762,"c":9772},{"i":279,"o":9772,"h":9784,"l":9760,"c":9776},
{"i":280,"o":9776,"h":9782,"l":9748,"c":9760},{"i":281,"o":9760,"h":9779,"l":9750,"c":9775},{"i":282,"o":9775,"h":9780,"l":9740,"c":9766},{"i":283,"o":9766,"h":9778,"l":9755,"c":9772},{"i":284,"o":9772,"h":9777,"l":9748,"c":9763},{"i":285,"o":9763,"h":9768,"l":9742,"c":9750},{"i":286,"o":9750,"h":9768,"l":9744,"c":9757},{"i":287,"o":9757,"h":9762,"l":9738,"c":9745},{"i":288,"o":9745,"h":9765,"l":9740,"c":9760},{"i":289,"o":9760,"h":9778,"l":9755,"c":9768},
{"i":290,"o":9768,"h":9775,"l":9750,"c":9762},{"i":291,"o":9762,"h":9776,"l":9756,"c":9770},{"i":292,"o":9770,"h":9774,"l":9748,"c":9756},{"i":293,"o":9756,"h":9770,"l":9750,"c":9764},{"i":294,"o":9764,"h":9778,"l":9760,"c":9772},{"i":295,"o":9772,"h":9777,"l":9752,"c":9765},{"i":296,"o":9765,"h":9781,"l":9760,"c":9775},{"i":297,"o":9775,"h":9779,"l":9745,"c":9757},{"i":298,"o":9757,"h":9765,"l":9738,"c":9748},{"i":299,"o":9748,"h":9775,"l":9745,"c":9770},
{"i":300,"o":9770,"h":9778,"l":9758,"c":9765},{"i":301,"o":9765,"h":9790,"l":9762,"c":9784},{"i":302,"o":9784,"h":9787,"l":9765,"c":9772},{"i":303,"o":9772,"h":9780,"l":9740,"c":9755},{"i":304,"o":9755,"h":9768,"l":9745,"c":9762},{"i":305,"o":9762,"h":9766,"l":9738,"c":9745},{"i":306,"o":9745,"h":9750,"l":9575,"c":9590},{"i":307,"o":9590,"h":9660,"l":9585,"c":9650},{"i":308,"o":9650,"h":9680,"l":9645,"c":9672},{"i":309,"o":9672,"h":9685,"l":9652,"c":9660},
{"i":310,"o":9660,"h":9665,"l":9632,"c":9640},{"i":311,"o":9640,"h":9660,"l":9635,"c":9648},{"i":312,"o":9648,"h":9656,"l":9628,"c":9636},{"i":313,"o":9636,"h":9652,"l":9630,"c":9645},{"i":314,"o":9645,"h":9650,"l":9618,"c":9630},{"i":315,"o":9630,"h":9648,"l":9620,"c":9640},{"i":316,"o":9640,"h":9645,"l":9612,"c":9622},{"i":317,"o":9622,"h":9630,"l":9600,"c":9608},{"i":318,"o":9608,"h":9618,"l":9598,"c":9606},{"i":319,"o":9606,"h":9632,"l":9600,"c":9627},
{"i":320,"o":9628,"h":9636,"l":9612,"c":9619},{"i":321,"o":9619,"h":9656,"l":9597,"c":9630},{"i":322,"o":9632,"h":9642,"l":9595,"c":9602},{"i":323,"o":9602,"h":9622,"l":9598,"c":9618},{"i":324,"o":9618,"h":9622,"l":9606,"c":9612},{"i":325,"o":9612,"h":9622,"l":9603,"c":9611},{"i":326,"o":9612,"h":9641,"l":9608,"c":9639},{"i":327,"o":9639,"h":9650,"l":9631,"c":9642},{"i":328,"o":9627,"h":9632,"l":9606,"c":9612},{"i":329,"o":9612,"h":9634,"l":9597,"c":9622},
{"i":330,"o":9620,"h":9621,"l":9531,"c":9561},{"i":331,"o":9561,"h":9587,"l":9545,"c":9577},{"i":332,"o":9578,"h":9592,"l":9570,"c":9584},{"i":333,"o":9587,"h":9655,"l":9584,"c":9637},{"i":334,"o":9637,"h":9644,"l":9600,"c":9612},{"i":335,"o":9612,"h":9645,"l":9610,"c":9631},{"i":336,"o":9631,"h":9645,"l":9628,"c":9638},{"i":337,"o":9639,"h":9679,"l":9637,"c":9662},{"i":338,"o":9663,"h":9667,"l":9653,"c":9657},{"i":339,"o":9657,"h":9670,"l":9654,"c":9666},
{"i":340,"o":9667,"h":9672,"l":9658,"c":9663},{"i":341,"o":9664,"h":9668,"l":9658,"c":9663},{"i":342,"o":9662,"h":9665,"l":9650,"c":9653},{"i":343,"o":9653,"h":9687,"l":9650,"c":9665},{"i":344,"o":9665,"h":9666,"l":9625,"c":9636},{"i":345,"o":9636,"h":9650,"l":9625,"c":9631},{"i":346,"o":9632,"h":9647,"l":9631,"c":9641},{"i":347,"o":9643,"h":9665,"l":9640,"c":9650},{"i":348,"o":9650,"h":9659,"l":9631,"c":9637},{"i":349,"o":9638,"h":9659,"l":9614,"c":9618},
{"i":350,"o":9619,"h":9662,"l":9615,"c":9659},{"i":351,"o":9659,"h":9661,"l":9631,"c":9639},{"i":352,"o":9640,"h":9641,"l":9611,"c":9620},{"i":353,"o":9620,"h":9622,"l":9590,"c":9596},{"i":354,"o":9595,"h":9612,"l":9590,"c":9610},{"i":355,"o":9609,"h":9634,"l":9606,"c":9618},{"i":356,"o":9623,"h":9637,"l":9603,"c":9612},{"i":357,"o":9612,"h":9653,"l":9582,"c":9638},{"i":358,"o":9638,"h":9648,"l":9635,"c":9644},{"i":359,"o":9644,"h":9680,"l":9643,"c":9658},
{"i":360,"o":9658,"h":9665,"l":9634,"c":9638},{"i":361,"o":9638,"h":9667,"l":9634,"c":9663},{"i":362,"o":9663,"h":9701,"l":9660,"c":9691},{"i":363,"o":9691,"h":9701,"l":9672,"c":9683},{"i":364,"o":9683,"h":9703,"l":9680,"c":9687},{"i":365,"o":9687,"h":9710,"l":9684,"c":9692},{"i":366,"o":9691,"h":9703,"l":9688,"c":9697},{"i":367,"o":9697,"h":9700,"l":9685,"c":9690},{"i":368,"o":9692,"h":9700,"l":9688,"c":9695},{"i":369,"o":9693,"h":9705,"l":9690,"c":9698},
{"i":370,"o":9734,"h":9738,"l":9722,"c":9725},{"i":371,"o":9725,"h":9732,"l":9704,"c":9712},{"i":372,"o":9713,"h":9731,"l":9700,"c":9708},{"i":373,"o":9711,"h":9716,"l":9696,"c":9701},{"i":374,"o":9702,"h":9726,"l":9692,"c":9707},{"i":375,"o":9708,"h":9715,"l":9687,"c":9698},{"i":376,"o":9697,"h":9712,"l":9692,"c":9707},{"i":377,"o":9705,"h":9725,"l":9700,"c":9716},{"i":378,"o":9715,"h":9728,"l":9699,"c":9720},{"i":379,"o":9719,"h":9734,"l":9715,"c":9721},
{"i":380,"o":9721,"h":9725,"l":9712,"c":9715},{"i":381,"o":9717,"h":9725,"l":9713,"c":9720},{"i":382,"o":9719,"h":9726,"l":9716,"c":9722},{"i":383,"o":9722,"h":9725,"l":9713,"c":9716},{"i":384,"o":9729,"h":9736,"l":9718,"c":9728},{"i":385,"o":9731,"h":9735,"l":9702,"c":9722},{"i":386,"o":9722,"h":9752,"l":9718,"c":9740},{"i":387,"o":9741,"h":9755,"l":9730,"c":9744},{"i":388,"o":9743,"h":9757,"l":9730,"c":9744},{"i":389,"o":9744,"h":9748,"l":9738,"c":9742},
{"i":390,"o":9742,"h":9746,"l":9736,"c":9740},{"i":391,"o":9742,"h":9747,"l":9730,"c":9740},{"i":392,"o":9742,"h":9770,"l":9738,"c":9768},{"i":393,"o":9768,"h":9777,"l":9753,"c":9755},{"i":394,"o":9754,"h":9765,"l":9750,"c":9760},{"i":395,"o":9761,"h":9767,"l":9755,"c":9762},{"i":396,"o":9762,"h":9770,"l":9758,"c":9765},{"i":397,"o":9767,"h":9773.5,"l":9766.5,"c":9770}
]
},
"layer":[
{"data":{"name":"boxes"},"mark":{"type":"rect"},
 "encoding":{
  "x":{"field":"i0","type":"quantitative","scale":{"domain":[-0.375,468.125],"nice":false,"zero":false},
   "axis":{"title":null,"values":[0,16,32,48,64,80,96,112,128,144,160,176,192,208,224,240,256,272,288,304,320,336,352,368,384],
    "labelExpr":"['10 Apr 2014','11 Apr 19:00','14','','17 Apr 11:00','22 Apr 13:00','23','','25 Apr 19:00','28 Apr 21:00','30 Apr 09:00','2 May 11:00','5 May 13:00','6 May 15:00','7 May 17:00','8 May 19:00','9 May 21:00','13 May 09:00','14','','16 May 15:00','19 May 17:00','20 May 19:00','21 May 21:00','23 May 09:00'][round(datum.value/16)]",
    "labelAlign":"left","labelBaseline":"top","labelPadding":1,"labelDx":1,"tickSize":4,"tickColor":"#000000","domainColor":"#000000","labelColor":"#000000","labelFont":"Liberation Sans","labelFontSize":9,"labelOverlap":false,"labelFlush":false,"labelBound":false,"grid":false}},
  "x2":{"field":"i1"},
  "y":{"field":"p0","type":"quantitative","scale":{"domain":[9081.13,9853.17],"nice":false,"zero":false},
   "axis":{"title":null,"orient":"right","values":[9083,9114,9145,9176,9207,9238,9269,9300,9331,9361.5,9392.5,9423.5,9454.5,9485.5,9516.5,9547.5,9578.5,9609.5,9640.5,9671.5,9702,9733,9764,9795,9826],
    "format":".1f","tickSize":3,"labelPadding":3,"tickColor":"#000000","domainColor":"#000000","labelColor":"#000000","labelFont":"Liberation Sans","labelFontSize":9,"labelOverlap":false,"labelFlush":false,"labelBound":false,"grid":false}},
  "y2":{"field":"p1"},
  "fill":{"field":"kind","type":"nominal","scale":{"domain":["zone","spike"],"range":["#00ffff","#ff00ff"]},"legend":null}
 }},
{"data":{"name":"tags"},"mark":{"type":"rect","fill":"#3cb371"},
 "encoding":{"x":{"field":"i0","type":"quantitative"},"x2":{"field":"i1"},"y":{"field":"p0","type":"quantitative"},"y2":{"field":"p1"}}},
{"data":{"name":"tags"},"mark":{"type":"text","font":"Liberation Sans","fontSize":16.5,"color":"#000000","align":"left","baseline":"middle"},
 "encoding":{"x":{"field":"tx","type":"quantitative"},"y":{"field":"pc","type":"quantitative"},"text":{"field":"t"}}},
{"data":{"name":"profile"},
 "transform":[{"calculate":"datum.s + datum.v","as":"e"},{"calculate":"datum.p + 2.05","as":"pt"},{"calculate":"datum.p - 2.05","as":"pb"}],
 "mark":{"type":"rect"},
 "encoding":{"x":{"field":"s","type":"quantitative"},"x2":{"field":"e"},"y":{"field":"pt","type":"quantitative"},"y2":{"field":"pb"},
  "color":{"field":"z","type":"nominal","scale":{"domain":["o","v"],"range":["#808080","#d3d3d3"]},"legend":null}}},
{"data":{"name":"levels"},"mark":{"type":"rule","strokeWidth":1},
 "encoding":{"y":{"field":"p","type":"quantitative"},"stroke":{"field":"k","type":"nominal","scale":{"domain":["alert","last"],"range":["#ff0000","#c0c0c0"]},"legend":null}}},
{"data":{"name":"segs"},"transform":[{"filter":"datum.k == 'thin'"}],"mark":{"type":"rule","color":"#ff0000","strokeWidth":1},
 "encoding":{"x":{"field":"a","type":"quantitative"},"x2":{"field":"b"},"y":{"field":"p","type":"quantitative"}}},
{"data":{"name":"segs"},"transform":[{"filter":"datum.k == 'dark'"}],"mark":{"type":"rule","color":"#404040","strokeWidth":1},
 "encoding":{"x":{"field":"a","type":"quantitative"},"x2":{"field":"b"},"y":{"field":"p","type":"quantitative"}}},
{"data":{"name":"segs"},"transform":[{"filter":"datum.k == 'thick'"}],"mark":{"type":"rule","color":"#ff0000","strokeWidth":2.5},
 "encoding":{"x":{"field":"a","type":"quantitative"},"x2":{"field":"b"},"y":{"field":"p","type":"quantitative"}}},
{"data":{"name":"vlines"},"mark":{"type":"rule","color":"#ff0000","strokeWidth":1},
 "encoding":{"x":{"field":"i","type":"quantitative"}}},
{"data":{"name":"candles"},"mark":{"type":"rule","color":"#000000","strokeWidth":1},
 "encoding":{"x":{"field":"i","type":"quantitative"},"y":{"field":"l","type":"quantitative"},"y2":{"field":"h"}}},
{"data":{"name":"candles"},"mark":{"type":"bar","width":2,"stroke":"#000000","strokeWidth":1},
 "encoding":{"x":{"field":"i","type":"quantitative"},"y":{"field":"o","type":"quantitative"},"y2":{"field":"c"},
  "fill":{"condition":{"test":"datum.c >= datum.o","value":"#ffffff"},"value":"#000000"}}},
{"data":{"name":"signs"},"mark":{"type":"text","font":"DejaVu Sans","fontSize":13,"color":"#ff3030","align":"center","baseline":"middle"},
 "encoding":{"x":{"field":"i","type":"quantitative"},"y":{"field":"p","type":"quantitative"},"text":{"field":"t"}}},
{"data":{"name":"path"},"mark":{"type":"line","color":"#0000ff","strokeWidth":3},
 "encoding":{"x":{"field":"i","type":"quantitative"},"y":{"field":"p","type":"quantitative"},"order":{"field":"n","type":"quantitative"}}},
{"data":{"name":"notes"},"transform":[{"filter":"datum.k == 'copy'"}],"mark":{"type":"text","font":"Liberation Sans","fontSize":15.5,"color":"#ff0000","align":"left","baseline":"middle"},
 "encoding":{"x":{"field":"i","type":"quantitative"},"y":{"field":"p","type":"quantitative"},"text":{"field":"t"}}},
{"data":{"name":"notes"},"transform":[{"filter":"datum.k == 'vp'"}],"mark":{"type":"text","font":"Liberation Sans","fontSize":11,"color":"#808080","align":"right","baseline":"middle"},
 "encoding":{"x":{"field":"i","type":"quantitative"},"y":{"field":"p","type":"quantitative"},"text":{"field":"t"}}},
{"data":{"name":"notes"},"transform":[{"filter":"datum.k == 'head'"}],"mark":{"type":"text","font":"Liberation Sans","fontSize":9.5,"color":"#000000","align":"left","baseline":"middle"},
 "encoding":{"x":{"field":"i","type":"quantitative"},"y":{"field":"p","type":"quantitative"},"text":{"field":"t"}}},
{"data":{"name":"notes"},"transform":[{"filter":"datum.k == 'tail'"}],"mark":{"type":"text","font":"Liberation Sans","fontSize":9,"color":"#000000","align":"left","baseline":"middle"},
 "encoding":{"x":{"field":"i","type":"quantitative"},"y":{"field":"p","type":"quantitative"},"text":{"field":"t"}}},
{"data":{"name":"notes"},"transform":[{"filter":"datum.k == 'tri'"}],"mark":{"type":"text","font":"DejaVu Sans","fontSize":7,"color":"#000000","align":"center","baseline":"middle"},
 "encoding":{"x":{"field":"i","type":"quantitative"},"y":{"field":"p","type":"quantitative"},"text":{"field":"t"}}},
{"data":{"name":"notes"},"transform":[{"filter":"datum.k == 'shift'"}],"mark":{"type":"text","font":"DejaVu Sans","fontSize":8,"color":"#a0a0a0","align":"center","baseline":"middle"},
 "encoding":{"x":{"field":"i","type":"quantitative"},"y":{"field":"p","type":"quantitative"},"text":{"field":"t"}}},
{"data":{"name":"axisTags"},"transform":[{"calculate":"datum.p + 4.7","as":"pt"},{"calculate":"datum.p - 4.7","as":"pb"}],
 "mark":{"type":"rect"},
 "encoding":{"x":{"datum":468.6,"type":"quantitative"},"x2":{"datum":477.6},"y":{"field":"pt","type":"quantitative"},"y2":{"field":"pb"},
  "fill":{"condition":{"test":"datum.k == 'last'","value":"#000000"},"value":"#ff0000"}}},
{"data":{"name":"axisTags"},"mark":{"type":"text","font":"Liberation Sans","fontSize":9,"color":"#ffffff","align":"left","baseline":"middle"},
 "encoding":{"x":{"datum":469.4,"type":"quantitative"},"y":{"field":"p","type":"quantitative"},"text":{"field":"t"}}},
{"data":{"name":"timeTags"},"transform":[{"calculate":"datum.i - 9.9","as":"a"},{"calculate":"datum.i + 9.8","as":"b"}],
 "mark":{"type":"rect","fill":"#ff0000"},
 "encoding":{"x":{"field":"a","type":"quantitative"},"x2":{"field":"b"},"y":{"datum":9077.4,"type":"quantitative"},"y2":{"datum":9066.3}}},
{"data":{"name":"timeTags"},"mark":{"type":"text","font":"Liberation Sans","fontSize":9,"color":"#ffffff","align":"center","baseline":"middle"},
 "encoding":{"x":{"field":"i","type":"quantitative"},"y":{"datum":9071.9,"type":"quantitative"},"text":{"field":"t"}}}
]
}
